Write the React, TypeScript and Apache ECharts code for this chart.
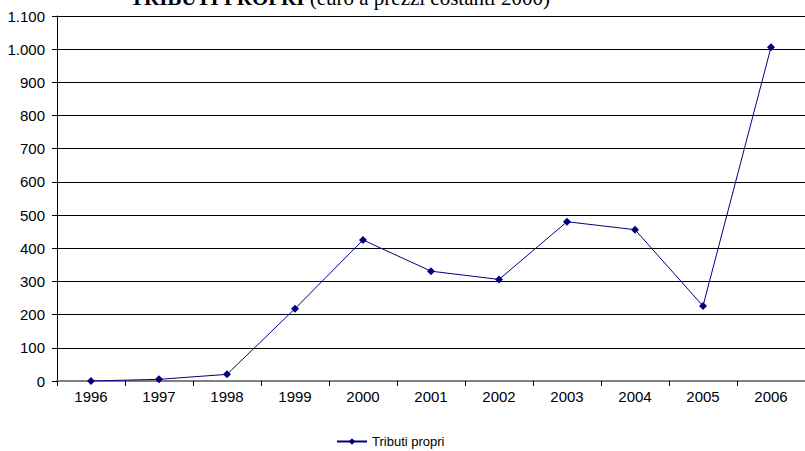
import React, { useEffect, useRef } from "react";
import * as echarts from "echarts";

const years = ["1996", "1997", "1998", "1999", "2000", "2001", "2002", "2003", "2004", "2005", "2006"];
const tributiPropri = [0, 5, 20, 218, 425, 331, 306, 480, 456, 226, 1006];
const seriesName = "Tributi propri";
const titleBold = "TRIBUTI PROPRI";
const titleRest = " (euro a prezzi costanti 2000)";

function fmt(v: number): string {
  return String(v).replace(/\B(?=(\d{3})+(?!\d))/g, ".");
}

export default function App() {
  const ref = useRef<HTMLDivElement>(null);
  useEffect(() => {
    if (!ref.current) return;
    const chart = echarts.init(ref.current, null, { renderer: "svg" });
    chart.setOption({
      animation: false,
      backgroundColor: "#ffffff",
      textStyle: { fontFamily: "Liberation Sans, Arial, sans-serif" },
      graphic: [
        {
          type: "text",
          x: 130,
          y: -13,
          style: {
            text: "{b|" + titleBold + "}{r|" + titleRest + "}",
            rich: {
              b: { fontFamily: "Liberation Serif, Times New Roman, serif", fontWeight: "bold", fontSize: 21, fill: "#000" },
              r: { fontFamily: "Liberation Serif, Times New Roman, serif", fontSize: 21, fill: "#000" },
            },
          },
        },
      ],
      grid: { left: 57, right: 0, top: 16, bottom: 70, containLabel: false },
      legend: {
        left: 331,
        top: 430,
        itemWidth: 30,
        itemHeight: 8,
        itemGap: 5,
        textStyle: { fontSize: 13, color: "#000", fontFamily: "Liberation Sans, Arial, sans-serif" },
        data: [seriesName],
      },
      xAxis: {
        type: "category",
        data: years,
        boundaryGap: true,
        axisLine: { show: true, lineStyle: { color: "#808080", width: 2 } },
        axisTick: { show: true, length: 5, lineStyle: { color: "#000" } },
        axisLabel: { color: "#000", fontSize: 15, margin: 8 },
        splitLine: { show: false },
      },
      yAxis: {
        type: "value",
        min: 0,
        max: 1100,
        interval: 100,
        axisLine: { show: true, lineStyle: { color: "#000", width: 1 } },
        axisTick: { show: true, length: 5, lineStyle: { color: "#000" } },
        axisLabel: { color: "#000", fontSize: 15, margin: 12, formatter: (v: number) => fmt(v) },
        splitLine: { show: true, lineStyle: { color: "#000", width: 1 } },
      },
      series: [
        {
          name: seriesName,
          type: "line",
          data: tributiPropri,
          symbol: "diamond",
          symbolSize: 8,
          showSymbol: true,
          lineStyle: { color: "#000080", width: 1 },
          itemStyle: { color: "#000080" },
        },
      ],
    });
    return () => chart.dispose();
  }, []);
  return <div ref={ref} style={{ position: "fixed", left: 0, top: 0, width: 805, height: 451 }} />;
}
